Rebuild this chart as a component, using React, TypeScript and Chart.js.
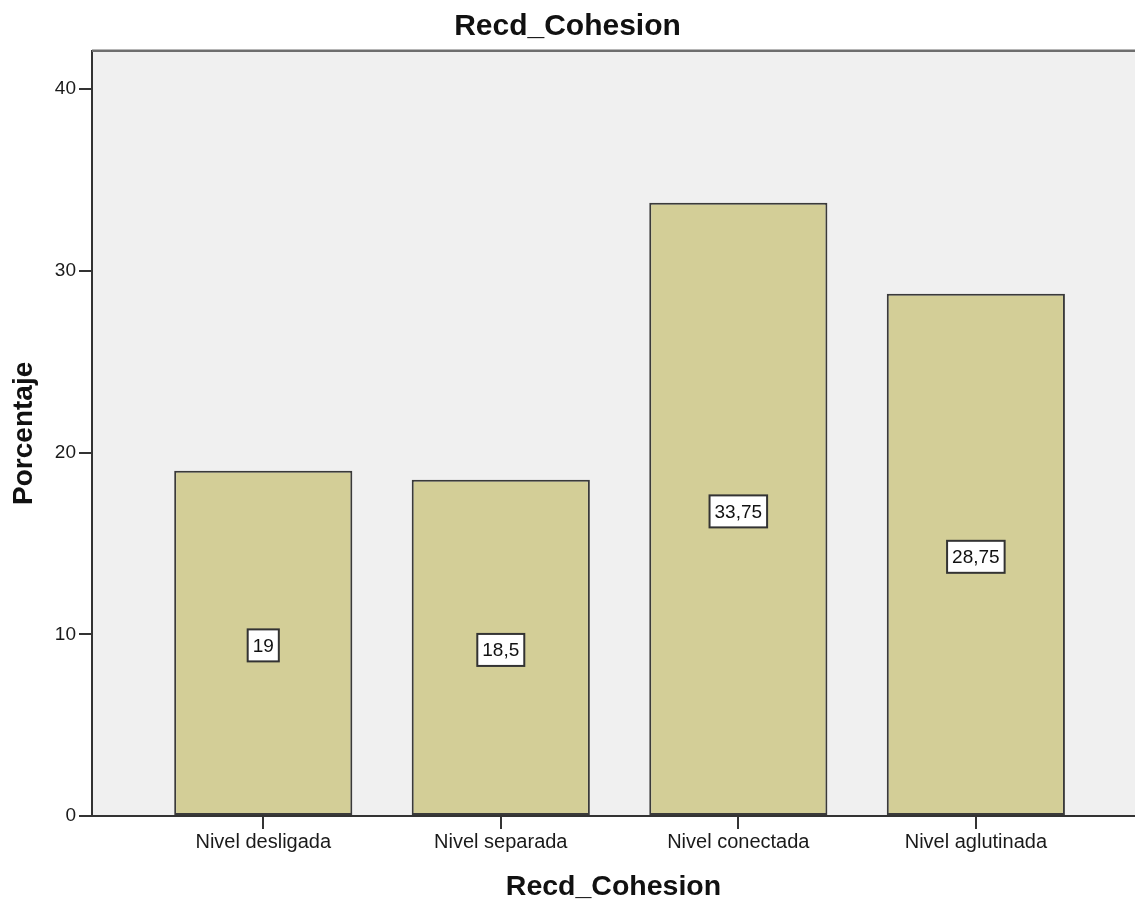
import React, { useEffect, useRef } from "react";
import { Chart, registerables } from "chart.js";

Chart.register(...registerables);

const chartTitle = "Recd_Cohesion";
const xAxisTitle = "Recd_Cohesion";
const yAxisTitle = "Porcentaje";
const categories = ["Nivel desligada", "Nivel separada", "Nivel conectada", "Nivel aglutinada"];
const percentages = [19, 18.5, 33.75, 28.75];
const yTicks = [0, 10, 20, 30, 40];

const FONT = "'Liberation Sans', Arial, sans-serif";
const BAR_FILL = "#D3CE97";
const BAR_EDGE = "#3a3a3a";
const PLOT_BG = "#F0F0F0";

// Grey plot background behind the bars, plus the frame line along the top.
const plotFrame = {
  id: "plotFrame",
  beforeDraw(chart: any) {
    const { ctx, chartArea: a } = chart;
    ctx.save();
    ctx.fillStyle = PLOT_BG;
    ctx.fillRect(a.left, a.top, a.right - a.left, a.bottom - a.top);
    ctx.restore();
  },
  afterDraw(chart: any) {
    const { ctx, chartArea: a } = chart;
    ctx.save();
    ctx.strokeStyle = "#6e6e6e";
    ctx.lineWidth = 2.5;
    ctx.beginPath();
    ctx.moveTo(a.left, a.top);
    ctx.lineTo(a.right, a.top);
    ctx.stroke();
    ctx.restore();
  },
};

// Boxed value labels placed at half the height of each bar.
const boxedValues = {
  id: "boxedValues",
  afterDatasetsDraw(chart: any) {
    const { ctx } = chart;
    const meta = chart.getDatasetMeta(0);
    const yScale = chart.scales.y;
    ctx.save();
    ctx.font = `19px ${FONT}`;
    ctx.textAlign = "center";
    ctx.textBaseline = "middle";
    meta.data.forEach((bar: any, i: number) => {
      const v = percentages[i];
      const text = String(v).replace(".", ",");
      const cx = bar.x;
      const cy = yScale.getPixelForValue(v / 2) + 2;
      const w = ctx.measureText(text).width + 10;
      const h = 32;
      ctx.fillStyle = "#ffffff";
      ctx.fillRect(cx - w / 2, cy - h / 2, w, h);
      ctx.strokeStyle = "#333333";
      ctx.lineWidth = 2;
      ctx.strokeRect(cx - w / 2, cy - h / 2, w, h);
      ctx.fillStyle = "#111111";
      ctx.fillText(text, cx, cy + 1);
    });
    ctx.restore();
  },
};

export default function App() {
  const canvasRef = useRef<HTMLCanvasElement | null>(null);

  useEffect(() => {
    if (!canvasRef.current) return;
    const chart = new Chart(canvasRef.current, {
      type: "bar",
      data: {
        datasets: [
          {
            data: percentages.map((v, i) => ({ x: i, y: v })),
            backgroundColor: BAR_FILL,
            borderColor: BAR_EDGE,
            borderWidth: 2,
            borderSkipped: false,
            categoryPercentage: 1,
            barPercentage: 0.75,
          },
        ],
      },
      options: {
        animation: false,
        responsive: true,
        maintainAspectRatio: false,
        layout: { padding: 0 },
        plugins: {
          legend: { display: false },
          tooltip: { enabled: false },
          title: {
            display: true,
            text: chartTitle,
            color: "#111",
            font: { family: FONT, size: 30, weight: "bold", lineHeight: 1 },
            padding: { top: 12, bottom: 8.7 },
          },
        },
        scales: {
          x: {
            type: "linear",
            min: -0.721,
            max: 3.67,
            offset: false,
            afterFit(scale: any) {
              scale.height = 85;
            },
            afterBuildTicks(scale: any) {
              scale.ticks = categories.map((_, i) => ({ value: i }));
            },
            ticks: {
              callback: (value: any) => categories[Number(value)] ?? "",
              color: "#1a1a1a",
              font: { family: FONT, size: 20 },
              padding: 1,
              maxRotation: 0,
              autoSkip: false,
              includeBounds: false,
            },
            grid: {
              offset: false,
              drawOnChartArea: false,
              drawTicks: true,
              tickLength: 13,
              color: "#333",
              lineWidth: 2,
            },
            border: { display: true, color: "#333", width: 2 },
            title: {
              display: true,
              text: xAxisTitle,
              color: "#111",
              font: { family: FONT, size: 28.5, weight: "bold", lineHeight: 1 },
              padding: { top: 0, bottom: 0 },
            },
          },
          y: {
            min: 0,
            max: 42.12,
            afterFit(scale: any) {
              scale.width = 92;
            },
            afterBuildTicks(scale: any) {
              scale.ticks = yTicks.map((v) => ({ value: v }));
            },
            ticks: {
              color: "#1a1a1a",
              font: { family: FONT, size: 19 },
              padding: 3,
              includeBounds: false,
            },
            grid: {
              drawOnChartArea: false,
              drawTicks: true,
              tickLength: 13,
              color: "#333",
              lineWidth: 2,
            },
            border: { display: true, color: "#333", width: 2 },
            title: {
              display: true,
              text: yAxisTitle,
              color: "#111",
              font: { family: FONT, size: 28, weight: "bold", lineHeight: 1 },
              padding: { top: 10, bottom: 0 },
            },
          },
        },
      },
      plugins: [plotFrame, boxedValues],
    } as any);
    return () => chart.destroy();
  }, []);

  return (
    <div style={{ position: "absolute", left: 0, top: 0, width: 1135, height: 901, background: "#fff" }}>
      <canvas ref={canvasRef} />
    </div>
  );
}
